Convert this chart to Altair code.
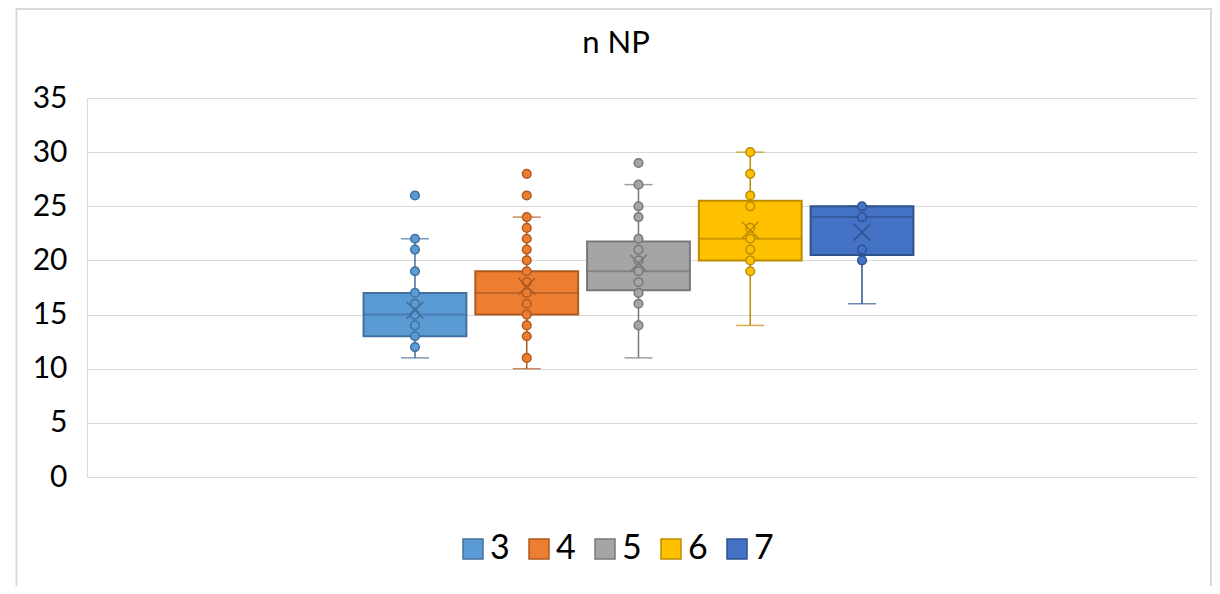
import altair as alt
import pandas as pd

# ---- data ----
series = ["3", "4", "5", "6", "7"]
fill_colors = ["#5B9BD5", "#ED7D31", "#A5A5A5", "#FFC000", "#4472C4"]
line_colors = ["#41719C", "#AE5A21", "#787878", "#BC8C00", "#2F528F"]

box_min = [11, 10, 11, 14, 16]
box_q1 = [13, 15, 17.25, 20, 20.5]
box_median = [15, 17, 19, 22, 24]
box_q3 = [17, 19, 21.75, 25.5, 25]
box_max = [22, 24, 27, 30, 25]
box_mean = [15.4, 17.6, 19.75, 22.8, 22.6]

points_3 = [26, 22, 21, 19, 17, 16, 15, 14, 13, 12]
points_4 = [28, 26, 24, 23, 22, 21, 20, 19, 18, 17, 16, 15, 14, 13, 11]
points_5 = [29, 27, 25, 24, 22, 21, 20, 19, 18, 17, 16, 14]
points_6 = [30, 28, 26, 25, 23, 22, 21, 20, 19]
points_7 = [25, 24, 21, 20]

y_ticks = [0, 5, 10, 15, 20, 25, 30, 35]
chart_title = "n NP"

# empty slots either side of the five series (Excel's single blank category)
x_domain = ["_a", "_b"] + series + ["_c", "_d"]

stats = pd.DataFrame({
    "series": series,
    "min": box_min, "q1": box_q1, "median": box_median,
    "q3": box_q3, "max": box_max, "mean": box_mean,
})
pts = pd.DataFrame(
    [(s, v) for s, vals in zip(series, [points_3, points_4, points_5, points_6, points_7]) for v in vals],
    columns=["series", "value"],
)

W, H = 1110, 379

x_enc = alt.X("series:N",
              scale=alt.Scale(domain=x_domain, paddingInner=0.08, paddingOuter=0.506, align=0.469),
              axis=alt.Axis(labels=False, ticks=False, domain=False, grid=False, title=None))
y_scale = alt.Scale(domain=[0, 35], nice=False, zero=True)
fill_scale = alt.Scale(domain=series, range=fill_colors)
stroke_scale = alt.Scale(domain=series, range=line_colors)

legend = alt.Legend(
    title=None, orient="none", direction="horizontal",
    legendX=369, legendY=434, padding=0,
    symbolType="square", symbolSize=400, symbolStrokeWidth=1.5,
    labelFontSize=34, labelFont="Lato", labelColor="black",
    labelOffset=0, columnPadding=12, symbolOffset=0,
)

frame = alt.Chart(alt.Data(values=[{}])).mark_rect(
    fill="white", fillOpacity=0, stroke="#D9D9D9", strokeWidth=2
).encode(
    x=alt.value(-70.5), x2=alt.value(1124), y=alt.value(-89), y2=alt.value(560)
)

title = alt.Chart(alt.Data(values=[{"t": chart_title}])).mark_text(
    font="Lato", fontSize=31, color="black", align="center", baseline="alphabetic"
).encode(text="t:N", x=alt.value(529), y=alt.value(-45))

base = alt.Chart(stats)

box = base.mark_bar(strokeWidth=2).encode(
    x=x_enc,
    y=alt.Y("q1:Q", scale=y_scale,
            axis=alt.Axis(values=y_ticks, title=None, ticks=False, labelPadding=20,
                          labelFontSize=30, labelFont="Lato", labelColor="black",
                          gridColor="#D9D9D9", gridWidth=1,
                          domain=True, domainColor="#D9D9D9", domainWidth=1)),
    y2="q3:Q",
    fill=alt.Fill("series:N", scale=fill_scale, legend=legend),
    stroke=alt.Stroke("series:N", scale=stroke_scale, legend=legend),
)

whisk_lo = base.mark_rule(strokeWidth=1.5).encode(
    x=x_enc, y=alt.Y("min:Q", scale=y_scale), y2="q1:Q",
    stroke=alt.Stroke("series:N", scale=stroke_scale),
)
whisk_hi = base.mark_rule(strokeWidth=1.5).encode(
    x=x_enc, y=alt.Y("q3:Q", scale=y_scale), y2="max:Q",
    stroke=alt.Stroke("series:N", scale=stroke_scale),
)
cap_lo = base.mark_tick(size=28, thickness=1.5).encode(
    x=x_enc, y=alt.Y("min:Q", scale=y_scale),
    color=alt.Color("series:N", scale=stroke_scale, legend=None),
)
cap_hi = base.mark_tick(size=28, thickness=1.5).encode(
    x=x_enc, y=alt.Y("max:Q", scale=y_scale),
    color=alt.Color("series:N", scale=stroke_scale, legend=None),
)
median = base.mark_tick(size=103, thickness=2).encode(
    x=x_enc, y=alt.Y("median:Q", scale=y_scale),
    color=alt.Color("series:N", scale=stroke_scale, legend=None),
)

dots = alt.Chart(pts).mark_point(shape="circle", filled=False, size=75, strokeWidth=1.5, opacity=1).encode(
    x=x_enc, y=alt.Y("value:Q", scale=y_scale),
    fill=alt.Fill("series:N", scale=fill_scale),
    stroke=alt.Stroke("series:N", scale=stroke_scale),
)

mean_x = base.mark_point(shape="M-1,-1L1,1M1,-1L-1,1", size=280, strokeWidth=1.5,
                         filled=False, opacity=1).encode(
    x=x_enc, y=alt.Y("mean:Q", scale=y_scale),
    stroke=alt.Stroke("series:N", scale=stroke_scale),
)

chart = alt.layer(
    frame, title, box, whisk_lo, whisk_hi, cap_lo, cap_hi, median, dots, mean_x
).properties(
    width=W, height=H,
    autosize=alt.AutoSizeParams(type="none"),
    padding={"left": 79, "top": 90, "right": 15, "bottom": 109},
    background="white",
).configure_view(stroke=None)

chart.save("out.html", embed_options={"renderer": "svg", "actions": False})
